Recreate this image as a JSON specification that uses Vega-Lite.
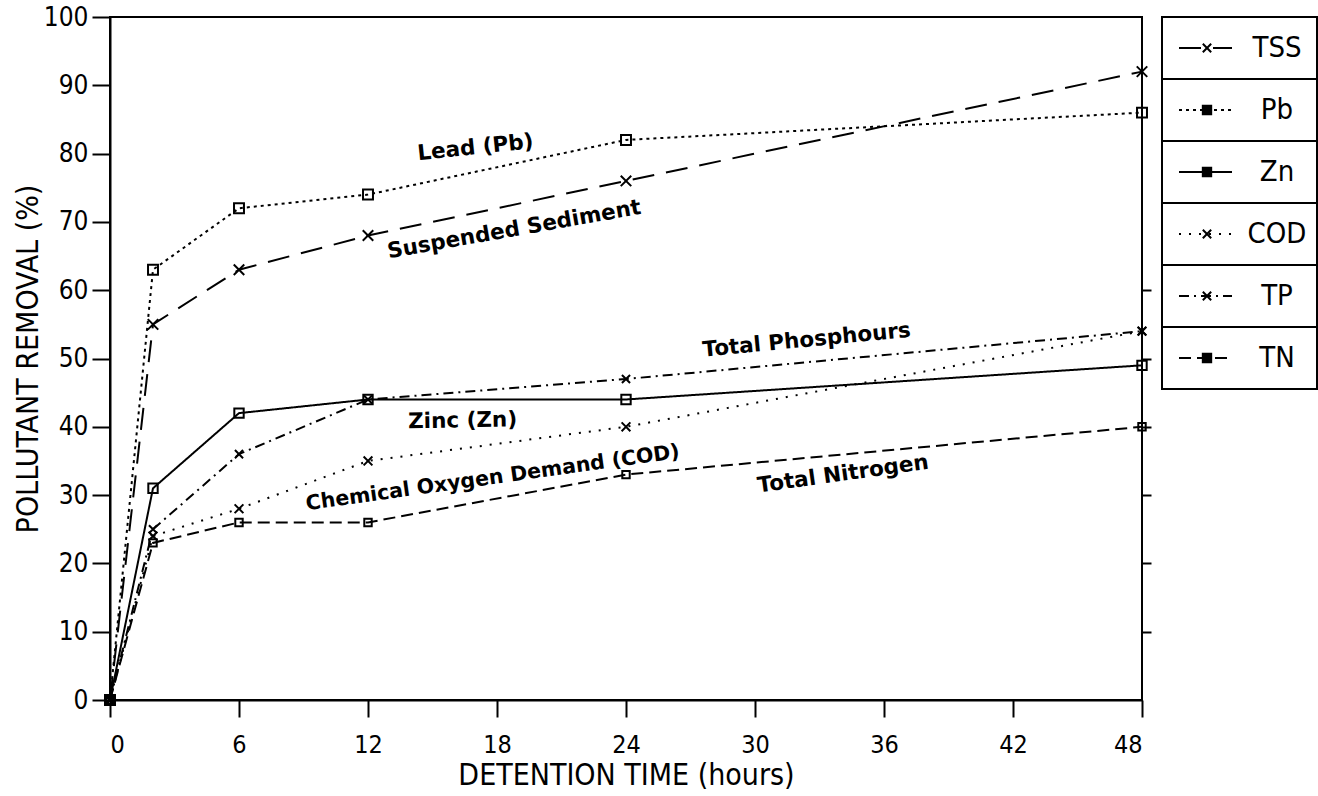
{
  "$schema": "https://vega.github.io/schema/vega-lite/v6.json",
  "background": "white",
  "padding": {"left": 12, "top": 3, "right": 5, "bottom": 5},
  "spacing": 7,
  "config": {
    "font": "DejaVu Sans Condensed, Liberation Sans Narrow, sans-serif",
    "view": {"stroke": "black", "strokeWidth": 2},
    "axis": {
      "domainColor": "black", "domainWidth": 2, "tickColor": "black", "tickWidth": 2,
      "labelColor": "black", "titleColor": "black", "grid": false,
      "labelFont": "DejaVu Sans Condensed, Liberation Sans Narrow, sans-serif",
      "titleFont": "DejaVu Sans Condensed, Liberation Sans Narrow, sans-serif",
      "titleFontWeight": "normal"
    }
  },
  "datasets": {
    "series": [
      {"pollutant": "TSS", "hours": 0, "pct": 0}, {"pollutant": "TSS", "hours": 2, "pct": 55}, {"pollutant": "TSS", "hours": 6, "pct": 63}, {"pollutant": "TSS", "hours": 12, "pct": 68}, {"pollutant": "TSS", "hours": 24, "pct": 76}, {"pollutant": "TSS", "hours": 48, "pct": 92},
      {"pollutant": "Pb", "hours": 0, "pct": 0}, {"pollutant": "Pb", "hours": 2, "pct": 63}, {"pollutant": "Pb", "hours": 6, "pct": 72}, {"pollutant": "Pb", "hours": 12, "pct": 74}, {"pollutant": "Pb", "hours": 24, "pct": 82}, {"pollutant": "Pb", "hours": 48, "pct": 86},
      {"pollutant": "Zn", "hours": 0, "pct": 0}, {"pollutant": "Zn", "hours": 2, "pct": 31}, {"pollutant": "Zn", "hours": 6, "pct": 42}, {"pollutant": "Zn", "hours": 12, "pct": 44}, {"pollutant": "Zn", "hours": 24, "pct": 44}, {"pollutant": "Zn", "hours": 48, "pct": 49},
      {"pollutant": "COD", "hours": 0, "pct": 0}, {"pollutant": "COD", "hours": 2, "pct": 24}, {"pollutant": "COD", "hours": 6, "pct": 28}, {"pollutant": "COD", "hours": 12, "pct": 35}, {"pollutant": "COD", "hours": 24, "pct": 40}, {"pollutant": "COD", "hours": 48, "pct": 54},
      {"pollutant": "TP", "hours": 0, "pct": 0}, {"pollutant": "TP", "hours": 2, "pct": 25}, {"pollutant": "TP", "hours": 6, "pct": 36}, {"pollutant": "TP", "hours": 12, "pct": 44}, {"pollutant": "TP", "hours": 24, "pct": 47}, {"pollutant": "TP", "hours": 48, "pct": 54},
      {"pollutant": "TN", "hours": 0, "pct": 0}, {"pollutant": "TN", "hours": 2, "pct": 23}, {"pollutant": "TN", "hours": 6, "pct": 26}, {"pollutant": "TN", "hours": 12, "pct": 26}, {"pollutant": "TN", "hours": 24, "pct": 33}, {"pollutant": "TN", "hours": 48, "pct": 40}
    ],
    "notes": [
      {"label": "Lead (Pb)", "hours": 17.0, "pct": 80.8},
      {"label": "Suspended Sediment", "hours": 18.8, "pct": 68.8},
      {"label": "Total Phosphours", "hours": 32.4, "pct": 52.6},
      {"label": "Zinc (Zn)", "hours": 16.4, "pct": 40.8},
      {"label": "Chemical Oxygen Demand (COD)", "hours": 17.8, "pct": 32.5},
      {"label": "Total Nitrogen", "hours": 34.1, "pct": 33.0}
    ],
    "legend": [
      {"pollutant": "TSS"}, {"pollutant": "Pb"}, {"pollutant": "Zn"}, {"pollutant": "COD"}, {"pollutant": "TP"}, {"pollutant": "TN"}
    ]
  },
  "hconcat": [
    {
      "width": 1032,
      "height": 683,
      "resolve": {"axis": {"y": "independent"}},
      "layer": [
        {
          "data": {"name": "series"},
          "mark": {"type": "line", "color": "black", "strokeWidth": 2},
          "encoding": {
            "x": {"field": "hours", "type": "quantitative", "scale": {"domain": [0, 48], "nice": false},
                  "axis": {"values": [0, 6, 12, 18, 24, 30, 36, 42, 48], "tickSize": 17, "labelPadding": 15, "labelFontSize": 25, "title": "DETENTION TIME (hours)", "titleFontSize": 30, "titlePadding": 3}},
            "y": {"field": "pct", "type": "quantitative", "scale": {"domain": [0, 100], "nice": false},
                  "axis": {"orient": "left", "values": [0, 10, 20, 30, 40, 50, 60, 70, 80, 90, 100], "tickSize": 18, "labelPadding": 4, "labelFontSize": 26, "title": "POLLUTANT REMOVAL (%)", "titleFontSize": 30, "titlePadding": 0}},
            "detail": {"field": "pollutant"},
            "strokeDash": {"field": "pollutant", "type": "nominal",
                           "scale": {"domain": ["TSS", "Pb", "Zn", "COD", "TP", "TN"], "range": [[22, 12], [3, 4], [1, 0], [2, 8], [10, 5, 2, 5], [12, 6]]},
                           "legend": null}
          }
        },
        {
          "data": {"name": "series"},
          "mark": {"type": "point", "filled": false, "stroke": "black", "strokeWidth": 2, "opacity": 1},
          "encoding": {
            "x": {"field": "hours", "type": "quantitative"},
            "y": {"field": "pct", "type": "quantitative",
                  "axis": {"orient": "right", "values": [10, 20, 30, 40, 50, 60], "labels": false, "domain": false, "tickSize": 9, "title": null}},
            "shape": {"field": "pollutant", "type": "nominal",
                      "scale": {"domain": ["TSS", "Pb", "Zn", "COD", "TP", "TN"], "range": ["M-1,-1L1,1M1,-1L-1,1", "square", "square", "M-1,-1L1,1M1,-1L-1,1", "M-1,-1L1,1M1,-1L-1,1", "square"]},
                      "legend": null},
            "size": {"field": "pollutant", "type": "nominal",
                     "scale": {"domain": ["TSS", "Pb", "Zn", "COD", "TP", "TN"], "range": [110, 55, 70, 90, 110, 55]},
                     "legend": null}
          }
        },
        {
          "data": {"name": "notes"},
          "transform": [{"filter": "datum.label === 'Lead (Pb)'"}],
          "mark": {"type": "text", "angle": 354, "font": "DejaVu Sans", "fontWeight": "bold", "fontSize": 21.5, "color": "black"},
          "encoding": {"x": {"field": "hours", "type": "quantitative"}, "y": {"field": "pct", "type": "quantitative", "axis": null}, "text": {"field": "label"}}
        },
        {
          "data": {"name": "notes"},
          "transform": [{"filter": "datum.label === 'Suspended Sediment'"}],
          "mark": {"type": "text", "angle": 350, "font": "DejaVu Sans", "fontWeight": "bold", "fontSize": 21.5, "color": "black"},
          "encoding": {"x": {"field": "hours", "type": "quantitative"}, "y": {"field": "pct", "type": "quantitative", "axis": null}, "text": {"field": "label"}}
        },
        {
          "data": {"name": "notes"},
          "transform": [{"filter": "datum.label === 'Total Phosphours'"}],
          "mark": {"type": "text", "angle": 354.5, "font": "DejaVu Sans", "fontWeight": "bold", "fontSize": 21.5, "color": "black"},
          "encoding": {"x": {"field": "hours", "type": "quantitative"}, "y": {"field": "pct", "type": "quantitative", "axis": null}, "text": {"field": "label"}}
        },
        {
          "data": {"name": "notes"},
          "transform": [{"filter": "datum.label === 'Zinc (Zn)'"}],
          "mark": {"type": "text", "angle": 359, "font": "DejaVu Sans", "fontWeight": "bold", "fontSize": 21.5, "color": "black"},
          "encoding": {"x": {"field": "hours", "type": "quantitative"}, "y": {"field": "pct", "type": "quantitative", "axis": null}, "text": {"field": "label"}}
        },
        {
          "data": {"name": "notes"},
          "transform": [{"filter": "datum.label === 'Chemical Oxygen Demand (COD)'"}],
          "mark": {"type": "text", "angle": 352, "font": "DejaVu Sans", "fontWeight": "bold", "fontSize": 20.5, "color": "black"},
          "encoding": {"x": {"field": "hours", "type": "quantitative"}, "y": {"field": "pct", "type": "quantitative", "axis": null}, "text": {"field": "label"}}
        },
        {
          "data": {"name": "notes"},
          "transform": [{"filter": "datum.label === 'Total Nitrogen'"}],
          "mark": {"type": "text", "angle": 352, "font": "DejaVu Sans", "fontWeight": "bold", "fontSize": 21.5, "color": "black"},
          "encoding": {"x": {"field": "hours", "type": "quantitative"}, "y": {"field": "pct", "type": "quantitative", "axis": null}, "text": {"field": "label"}}
        }
      ]
    },
    {
      "width": 155,
      "height": 372,
      "data": {"name": "legend"},
      "encoding": {
        "y": {"field": "pollutant", "type": "nominal", "sort": ["TSS", "Pb", "Zn", "COD", "TP", "TN"],
              "scale": {"domain": ["TSS", "Pb", "Zn", "COD", "TP", "TN"], "paddingInner": 0, "paddingOuter": 0}, "axis": null}
      },
      "layer": [
        {
          "mark": {"type": "rect", "fill": "white", "stroke": "black", "strokeWidth": 2},
          "encoding": {
            "x": {"datum": 0, "type": "quantitative", "scale": {"domain": [0, 155], "nice": false, "zero": false}, "axis": null},
            "x2": {"datum": 155}
          }
        },
        {
          "mark": {"type": "rule", "color": "black", "strokeWidth": 2},
          "encoding": {
            "x": {"datum": 17, "type": "quantitative", "axis": null},
            "x2": {"datum": 70},
            "strokeDash": {"field": "pollutant", "type": "nominal",
                           "scale": {"domain": ["TSS", "Pb", "Zn", "COD", "TP", "TN"], "range": [[20, 8], [5, 5], [1, 0], [3, 8], [10, 6, 3, 6], [14, 6, 5, 6]]},
                           "legend": null}
          }
        },
        {
          "mark": {"type": "point", "filled": true, "fill": "black", "stroke": "black", "strokeWidth": 2, "opacity": 1},
          "encoding": {
            "x": {"datum": 45, "type": "quantitative", "axis": null},
            "shape": {"field": "pollutant", "type": "nominal",
                      "scale": {"domain": ["TSS", "Pb", "Zn", "COD", "TP", "TN"], "range": ["M-1,-1L1,1M1,-1L-1,1", "square", "circle", "M-1,-1L1,1M1,-1L-1,1", "M-1,-1L1,1M1,-1L-1,1", "square"]},
                      "legend": null},
            "size": {"value": 70}
          }
        },
        {
          "mark": {"type": "text", "align": "center", "baseline": "middle", "fontSize": 29, "color": "black", "font": "DejaVu Sans Condensed, Liberation Sans Narrow, sans-serif"},
          "encoding": {
            "x": {"datum": 115, "type": "quantitative", "axis": null},
            "text": {"field": "pollutant"}
          }
        }
      ]
    }
  ]
}
